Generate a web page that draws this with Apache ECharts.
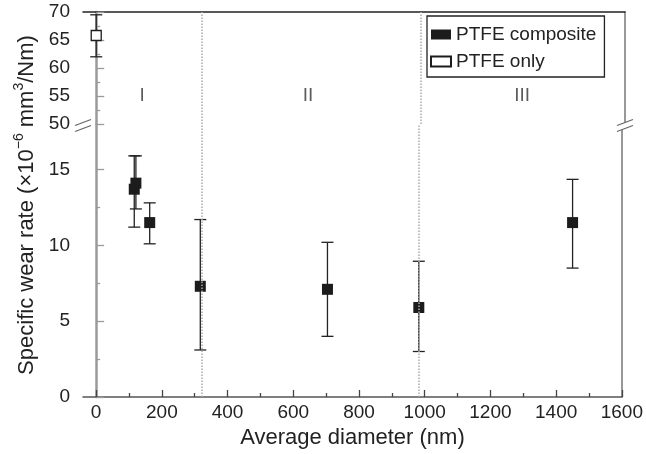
<!DOCTYPE html>
<html>
<head>
<meta charset="utf-8">
<script src="https://cdn.jsdelivr.net/npm/echarts@6/dist/echarts.min.js"></script>
<style>html,body{margin:0;padding:0;background:#fff}#c{width:646px;height:454px}</style>
</head>
<body>
<div id="c"></div>
<script>
// ---- data ----
const compX    = [116, 121, 163, 317, 704, 982, 1450];
const compY    = [13.7, 14.1, 11.5, 7.3, 7.1, 5.9, 11.5];
const compLow  = [11.2, 12.4, 10.1, 3.1, 4.0, 3.0, 8.5];
const compHigh = [15.9, 15.9, 12.8, 11.7, 10.2, 8.95, 14.35];

const onlyX    = [0];
const onlyY    = [65.8];
const onlyLow  = [62.0];
const onlyHigh = [69.5];

const dividers = [320, 983];
const regionNames = ['I', 'II', 'III'];
const regionX = [139, 641, 1289];
const regionY = [55, 55, 55];

const xTicks = [0, 200, 400, 600, 800, 1000, 1200, 1400, 1600];
const xMinor = [100, 300, 500, 700, 900, 1100, 1300, 1500];
const yLowTicks = [0, 5, 10, 15];
const yLowMinor = [2.5, 7.5, 12.5];

// ---- chart ----
const FONT = '"Liberation Sans", Arial, Helvetica, sans-serif';
const TXT = '#222';
const chart = echarts.init(document.getElementById('c'), null, {renderer: 'canvas'});

function renderErr(params, api) {
  const x = api.value(0), lo = api.value(1), hi = api.value(2);
  const a = api.coord([x, lo]), b = api.coord([x, hi]);
  const w = 6;
  const style = {stroke: '#222', lineWidth: 1.3};
  return {type: 'group', children: [
    {type: 'line', shape: {x1: a[0], y1: a[1], x2: b[0], y2: b[1]}, style},
    {type: 'line', shape: {x1: a[0] - w, y1: a[1], x2: a[0] + w, y2: a[1]}, style},
    {type: 'line', shape: {x1: b[0] - w, y1: b[1], x2: b[0] + w, y2: b[1]}, style}
  ]};
}

const dividerLine = {
  silent: true, symbol: 'none', label: {show: false},
  lineStyle: {color: '#aaa', type: 'dotted', width: 1.5},
  data: dividers.map(v => ({xAxis: v}))
};

const grayAxis = {color: '#9a9a9a', width: 2.5};
const rightAxis = {color: '#777', width: 1.5};
const plain = v => String(v);

function breakMark(cx) {
  return [
    {type: 'polygon', z: 100, shape: {points: [[cx - 8, 125.5], [cx + 8, 119.5], [cx + 8, 125.5], [cx - 8, 131.5]]}, style: {fill: '#fff'}},
    {type: 'line', z: 101, shape: {x1: cx - 8, y1: 125.5, x2: cx + 8, y2: 119.5}, style: {stroke: '#666', lineWidth: 1.3}},
    {type: 'line', z: 101, shape: {x1: cx - 8, y1: 131.5, x2: cx + 8, y2: 125.5}, style: {stroke: '#666', lineWidth: 1.3}}
  ];
}

const option = {
  animation: false,
  backgroundColor: '#fff',
  textStyle: {fontFamily: FONT},
  grid: [
    {left: 83, right: 21, top: 12, height: 112},
    {left: 83, right: 21, top: 124, height: 273}
  ],
  xAxis: [
    {gridIndex: 0, type: 'value', min: -40, max: 1600, position: 'top',
     axisLine: {show: true, lineStyle: {color: '#222', width: 1.5}},
     axisTick: {show: false}, axisLabel: {show: false}, splitLine: {show: false}},
    {gridIndex: 1, type: 'value', min: -40, max: 1600, position: 'bottom',
     axisLine: {show: true, lineStyle: {color: '#555', width: 1.5}},
     axisTick: {show: true, inside: true, length: 7, customValues: xTicks, lineStyle: {color: '#444', width: 1.3}},
     axisLabel: {show: true, customValues: xTicks, formatter: plain, margin: 6, fontSize: 19, color: TXT, fontFamily: FONT},
     splitLine: {show: false},
     name: 'Average diameter (nm)', nameLocation: 'middle', nameGap: 30,
     nameTextStyle: {fontSize: 22, color: TXT, fontFamily: FONT}},
    {gridIndex: 1, type: 'value', min: -40, max: 1600, position: 'bottom',
     axisLine: {show: false},
     axisTick: {show: true, inside: true, length: 4, customValues: xMinor, lineStyle: {color: '#444', width: 1.3}},
     axisLabel: {show: false}, splitLine: {show: false}}
  ],
  yAxis: [
    {gridIndex: 0, type: 'value', min: 50, max: 70, interval: 5, position: 'left',
     axisLine: {show: true, lineStyle: grayAxis},
     axisTick: {show: true, inside: true, length: 8, lineStyle: {color: '#9a9a9a', width: 1.3}},
     minorTick: {show: true, splitNumber: 2, length: 4, lineStyle: {color: '#9a9a9a', width: 1.3}},
     axisLabel: {margin: 13, formatter: plain, fontSize: 19, color: TXT, fontFamily: FONT},
     splitLine: {show: false}, minorSplitLine: {show: false}},
    {gridIndex: 0, type: 'value', min: 50, max: 70, position: 'right',
     axisLine: {show: true, lineStyle: rightAxis},
     axisTick: {show: false}, axisLabel: {show: false}, splitLine: {show: false}},
    {gridIndex: 1, type: 'value', min: 0, max: 18, position: 'left',
     axisLine: {show: true, lineStyle: grayAxis},
     axisTick: {show: true, inside: true, length: 8, customValues: yLowTicks, lineStyle: {color: '#9a9a9a', width: 1.3}},
     axisLabel: {customValues: yLowTicks, formatter: plain, margin: 13, fontSize: 19, color: TXT, fontFamily: FONT},
     splitLine: {show: false}},
    {gridIndex: 1, type: 'value', min: 0, max: 18, position: 'left',
     axisLine: {show: false},
     axisTick: {show: true, inside: true, length: 4, customValues: yLowMinor, lineStyle: {color: '#9a9a9a', width: 1.3}},
     axisLabel: {show: false}, splitLine: {show: false}},
    {gridIndex: 1, type: 'value', min: 0, max: 18, position: 'right',
     axisLine: {show: true, lineStyle: rightAxis},
     axisTick: {show: false}, axisLabel: {show: false}, splitLine: {show: false}}
  ],
  legend: {
    data: ['PTFE composite', 'PTFE only'],
    orient: 'vertical', left: 427, top: 16,
    itemWidth: 20, itemHeight: 10, itemGap: 8,
    padding: [9, 8, 6, 3],
    borderColor: '#222', borderWidth: 1.3, borderRadius: 0,
    backgroundColor: '#fff',
    textStyle: {fontSize: 19, color: TXT, fontFamily: FONT},
    selectedMode: false
  },
  series: [
    {name: 'errComposite', type: 'custom', xAxisIndex: 1, yAxisIndex: 2, z: 2,
     renderItem: renderErr, encode: {x: 0, y: [1, 2]},
     data: compX.map((x, i) => [x, compLow[i], compHigh[i]])},
    {name: 'errOnly', type: 'custom', xAxisIndex: 0, yAxisIndex: 0, z: 2,
     renderItem: renderErr, encode: {x: 0, y: [1, 2]},
     data: onlyX.map((x, i) => [x, onlyLow[i], onlyHigh[i]])},
    {name: 'PTFE composite', type: 'scatter', xAxisIndex: 1, yAxisIndex: 2, z: 3,
     symbol: 'rect', symbolSize: 11, symbolKeepAspect: true,
     itemStyle: {color: '#1c1c1c', opacity: 1},
     data: compX.map((x, i) => [x, compY[i]]),
     markLine: dividerLine},
    {name: 'PTFE only', type: 'scatter', xAxisIndex: 0, yAxisIndex: 0, z: 3,
     symbol: 'rect', symbolSize: 10, symbolKeepAspect: true,
     itemStyle: {color: '#fff', borderColor: '#1c1c1c', borderWidth: 1.3, opacity: 1},
     data: onlyX.map((x, i) => [x, onlyY[i]]),
     markLine: dividerLine},
    {name: 'regions', type: 'scatter', xAxisIndex: 0, yAxisIndex: 0, z: 4,
     symbolSize: 0, silent: true,
     label: {show: true, position: 'inside', formatter: '{b}', fontSize: 19, color: '#333', fontFamily: FONT},
     data: regionNames.map((n, i) => ({name: n, value: [regionX[i], regionY[i]]}))}
  ],
  graphic: [
    ...breakMark(83),
    ...breakMark(625),
    {type: 'text', z: 100, x: 25, y: 205, rotation: Math.PI / 2,
     style: {
       text: '{a|Specific wear rate (×10}{s|−6}{a| mm}{s|3}{a|/Nm)}',
       align: 'center', verticalAlign: 'middle',
       rich: {
         a: {fontSize: 22, fontFamily: FONT, fill: TXT, lineHeight: 26, verticalAlign: 'bottom'},
         s: {fontSize: 14, fontFamily: FONT, fill: TXT, lineHeight: 14, verticalAlign: 'top'}
       }
     }}
  ]
};
chart.setOption(option);
</script>
</body>
</html>
